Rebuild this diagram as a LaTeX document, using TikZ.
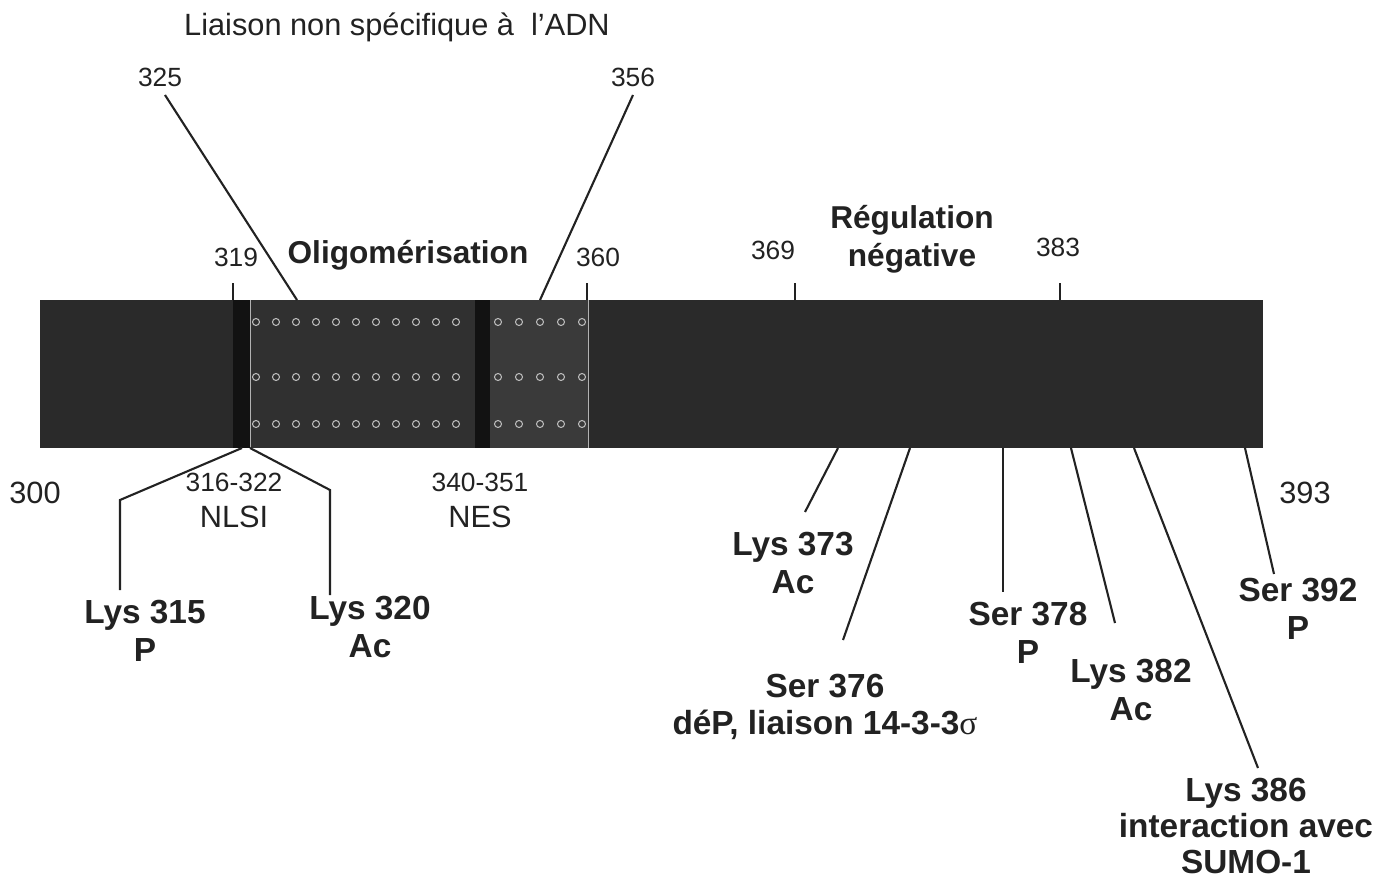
\documentclass[tikz,border=0pt]{standalone}
\usepackage{fontspec}
\setmainfont{Liberation Sans}
\newfontfamily\sigmafont{Liberation Serif}
\usepackage{tikz}
\usetikzlibrary{positioning}

\definecolor{ink}{HTML}{222222}
\definecolor{barcol}{HTML}{2A2A2A}
\definecolor{oligocol}{HTML}{303030}
\definecolor{nescol}{HTML}{3A3A3A}
\definecolor{bandcol}{HTML}{121212}

\tikzset{
  num/.style={font=\fontsize{15}{17}\selectfont, text=ink, inner sep=1pt},
  bignum/.style={font=\fontsize{17.5}{20}\selectfont, text=ink, inner sep=1pt},
  regionlab/.style={font=\bfseries\fontsize{18}{21.5}\selectfont, text=ink, align=center, inner sep=1pt},
  site/.style={font=\bfseries\fontsize{19}{21.5}\selectfont, text=ink, align=center, inner sep=1pt},
  pin/.style={line width=1.2pt, ink},
  spot/.style={draw=gray!55, line width=0.6pt},
}

\begin{document}
\begin{tikzpicture}[x=0.02cm,y=-0.02cm]
\useasboundingbox (0,0) rectangle (1387,882);

% the protein bar
\node (bar) [fill=barcol, inner sep=0pt, minimum width=24.46cm, minimum height=2.96cm,
      anchor=north west] at (40,300) {};
\fill[oligocol] (250,300) rectangle (475,448);
\fill[nescol] (490,300) rectangle (588,448);
\fill[bandcol] (233,300) rectangle (250,448);
\fill[bandcol] (475,300) rectangle (490,448);
\draw[gray!60, line width=0.5pt] (250,300) -- (250,448);
\draw[gray!60, line width=0.5pt] (588,300) -- (588,448);
\foreach \y in {322,377,424}{
  \foreach \x in {256,276,...,456} \draw[spot] (\x,\y) circle[radius=2pt];
  \foreach \x in {498,519,...,582} \draw[spot] (\x,\y) circle[radius=2pt];
}

% texts above the bar
\node (adn) [bignum] at (397,27) {Liaison non spécifique à \ l'ADN};
\node (n325) [num] at (160,77) {325};
\node (n356) [num] at (633,77) {356};
\node (n319) [num] at (236,257) {319};
\node (n360) [num] at (598,257) {360};
\node (n369) [num] at (773,250) {369};
\node (n383) [num] at (1058,247) {383};
\node (oligo) [regionlab] at (408,255) {Oligomérisation};
\node (regneg) [regionlab] at (912,239) {Régulation\\négative};

% texts below the bar
\node (n300) [bignum] at (35,493) {300};
\node (n393) [bignum] at (1305,493) {393};
\node (n316) [num] at (234,482) {316-322};
\node (nlsi) [bignum] at (234,517) {NLSI};
\node (n340) [num] at (480,482) {340-351};
\node (nes) [bignum] at (480,517) {NES};

\node (lys315) [site] at (145,631) {Lys 315\\P};
\node (lys320) [site] at (370,627) {Lys 320\\Ac};
\node (lys373) [site] at (793,563) {Lys 373\\Ac};
\node (ser376) [site] at (825,707) {Ser 376\\déP, liaison 14-3-3{\mdseries\sigmafont σ}};
\node (ser378) [site] at (1028,633) {Ser 378\\P};
\node (lys382) [site] at (1131,690) {Lys 382\\Ac};
\node (lys386) [site, font=\bfseries\fontsize{19}{20.5}\selectfont] at (1246,826) {Lys 386\\interaction avec\\SUMO-1};
\node (ser392) [site] at (1298,609) {Ser 392\\P};

% points on the bar and free ends
\coordinate (t319) at (233,300); \coordinate (e319) at (233,283);
\coordinate (t325) at (297,300); \coordinate (e325) at (165,95);
\coordinate (t356) at (540,300); \coordinate (e356) at (633,95);
\coordinate (t360) at (587,300); \coordinate (e360) at (587,283);
\coordinate (t369) at (795,300); \coordinate (e369) at (795,283);
\coordinate (t383) at (1060,300); \coordinate (e383) at (1060,283);

\coordinate (b315) at (242,448); \coordinate (e315) at (120,590);
\coordinate (b320) at (250,448); \coordinate (e320) at (330,595);
\coordinate (b373) at (838,448); \coordinate (e373) at (805,512);
\coordinate (b376) at (910,448); \coordinate (e376) at (843,640);
\coordinate (b378) at (1003,448); \coordinate (e378) at (1003,592);
\coordinate (b382) at (1071,448); \coordinate (e382) at (1115,623);
\coordinate (b386) at (1134,448); \coordinate (e386) at (1258,768);
\coordinate (b392) at (1245,448); \coordinate (e392) at (1274,574);

% connectors
\foreach \s in {319,325,356,360,369,383} \draw[pin] (t\s) -- (e\s);
\draw[pin] (b315) -- (120,500) -- (e315);
\draw[pin] (b320) -- (330,490) -- (e320);
\foreach \s in {373,376,378,382,386,392} \draw[pin] (b\s) -- (e\s);
\end{tikzpicture}
\end{document}
